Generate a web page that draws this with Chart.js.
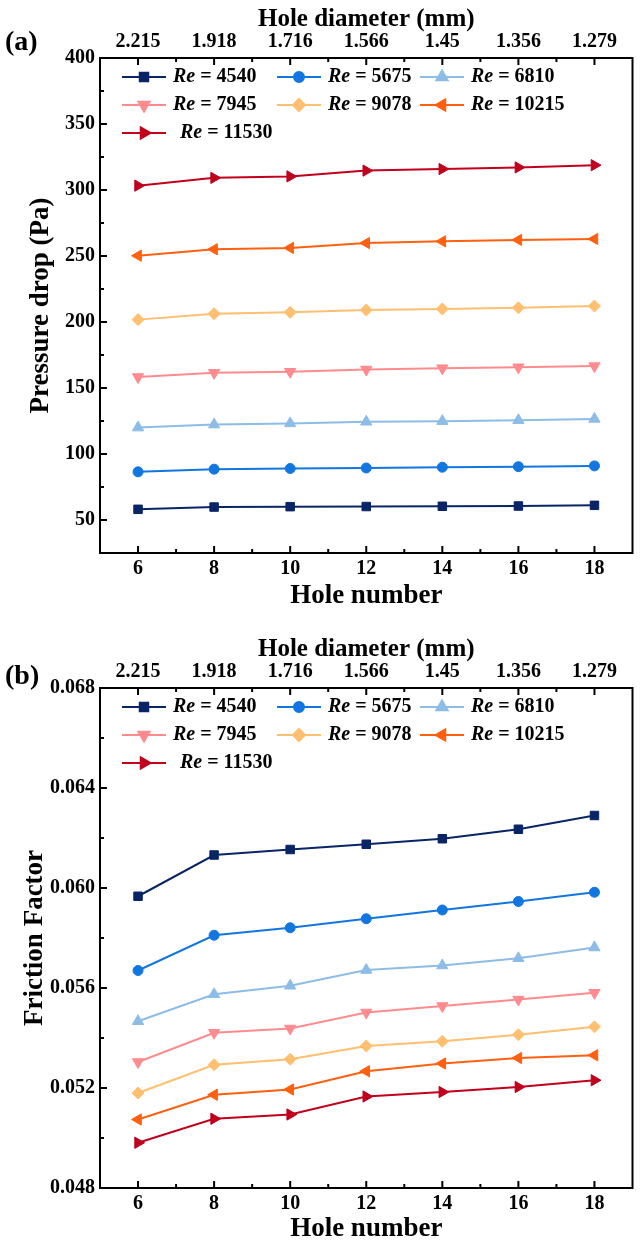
<!DOCTYPE html>
<html>
<head>
<meta charset="utf-8">
<script src="https://cdn.jsdelivr.net/npm/chart.js@4.4.1/dist/chart.umd.min.js"></script>
<style>
  html, body { margin: 0; padding: 0; background: #fff; }
  #wrap { position: relative; width: 640px; height: 1243px; }
  #chartA { position: absolute; left: 0; top: 0; }
  #chartB { position: absolute; left: 0; top: 630px; }
</style>
</head>
<body>
<div id="wrap">
  <canvas id="chartA" width="640" height="620"></canvas>
  <canvas id="chartB" width="640" height="613"></canvas>
</div>
<script>
// ---- data ----
const holeNumbers = [6, 8, 10, 12, 14, 16, 18];
const holeDiameters = ["2.215", "1.918", "1.716", "1.566", "1.45", "1.356", "1.279"];
const reynolds = [4540, 5675, 6810, 7945, 9078, 10215, 11530];

const pressure4540  = [58.1, 59.8, 60.1, 60.2, 60.4, 60.6, 61.1];
const pressure5675  = [86.5, 88.5, 89.0, 89.4, 90.0, 90.4, 91.0];
const pressure6810  = [120.0, 122.3, 123.2, 124.4, 124.9, 125.6, 126.6];
const pressure7945  = [158.3, 161.5, 162.3, 164.0, 165.0, 165.7, 166.6];
const pressure9078  = [201.8, 206.3, 207.3, 209.1, 209.9, 210.8, 212.1];
const pressure10215 = [250.2, 255.1, 256.1, 259.8, 261.1, 262.2, 262.9];
const pressure11530 = [303.3, 309.2, 310.3, 314.7, 315.9, 317.1, 318.8];

const friction4540  = [0.05967, 0.06132, 0.06154, 0.06175, 0.06197, 0.06235, 0.06290];
const friction5675  = [0.05670, 0.05811, 0.05841, 0.05877, 0.05912, 0.05946, 0.05983];
const friction6810  = [0.05467, 0.05575, 0.05609, 0.05672, 0.05690, 0.05719, 0.05762];
const friction7945  = [0.05304, 0.05421, 0.05438, 0.05502, 0.05528, 0.05554, 0.05581];
const friction9078  = [0.05180, 0.05293, 0.05315, 0.05368, 0.05387, 0.05413, 0.05445];
const friction10215 = [0.05074, 0.05173, 0.05194, 0.05267, 0.05298, 0.05320, 0.05331];
const friction11530 = [0.04981, 0.05077, 0.05094, 0.05166, 0.05184, 0.05204, 0.05231];

const pressureTicks = [50, 100, 150, 200, 250, 300, 350, 400];
const frictionTicks = [0.048, 0.052, 0.056, 0.060, 0.064, 0.068];

// ---- look ----
const FONT = "'Liberation Serif', 'Times New Roman', serif";
const STYLES = [
  { color: "#0a2566", point: "rect",     rot: 0,   r: 6 },
  { color: "#1276e0", point: "circle",   rot: 0,   r: 5 },
  { color: "#8dbde6", point: "triangle", rot: 0,   r: 6.5 },
  { color: "#ff8b8e", point: "triangle", rot: 180, r: 6.5 },
  { color: "#ffbf70", point: "rectRot",  rot: 0,   r: 6 },
  { color: "#ff6010", point: "triangle", rot: -90, r: 6.5 },
  { color: "#c0001c", point: "triangle", rot: 90,  r: 6.5, gap: 7 }
];
const tickFont = { family: FONT, size: 20, weight: "bold" };
const topTitleFont = { family: FONT, size: 25, weight: "bold", lineHeight: 1 };
const titleFont = { family: FONT, size: 27, weight: "bold", lineHeight: 1 };

const line = (ctx, x1, y1, x2, y2) => {
  ctx.beginPath();
  ctx.moveTo(x1, y1);
  ctx.lineTo(x2, y2);
  ctx.stroke();
};

// frame, inward ticks, legend and panel letter
const decor = {
  id: "decor",
  beforeDatasetsDraw(chart, args, opts) {
    const { ctx, chartArea: a, scales } = chart;
    ctx.save();
    ctx.strokeStyle = "#000";
    ctx.lineWidth = 2;
    ctx.strokeRect(a.left, a.top, a.right - a.left, a.bottom - a.top);

    holeNumbers.forEach((v, i) => {
      const px = scales.x.getPixelForValue(v);
      line(ctx, px, a.bottom, px, a.bottom - 7);
      line(ctx, px, a.top, px, a.top + 7);
      if (i < holeNumbers.length - 1) {
        const mx = scales.x.getPixelForValue(v + 1);
        line(ctx, mx, a.bottom, mx, a.bottom - 4);
        line(ctx, mx, a.top, mx, a.top + 4);
      }
    });

    const yt = opts.yTicks;
    yt.forEach((v, i) => {
      const py = scales.y.getPixelForValue(v);
      if (py > a.top + 1 && py < a.bottom - 1) line(ctx, a.left, py, a.left + 7, py);
      if (i < yt.length - 1) {
        const my = scales.y.getPixelForValue((v + yt[i + 1]) / 2);
        line(ctx, a.left, my, a.left + 4, my);
      }
    });
    ctx.restore();
  },
  afterDatasetsDraw(chart, args, opts) {
    const { ctx, chartArea: a } = chart;
    ctx.save();
    const cols = [22, 177, 320];
    chart.data.datasets.forEach((ds, i) => {
      const st = STYLES[i];
      const x0 = a.left + cols[i % 3];
      const y0 = a.top + 19 + Math.floor(i / 3) * 28;
      ctx.strokeStyle = st.color;
      ctx.fillStyle = st.color;
      ctx.lineWidth = 2;
      line(ctx, x0, y0, x0 + 44, y0);
      Chart.helpers.drawPoint(ctx, { pointStyle: st.point, rotation: st.rot, radius: st.r, borderWidth: 1 }, x0 + 22, y0);

      ctx.fillStyle = "#000";
      ctx.textBaseline = "middle";
      let tx = x0 + 51 + (st.gap || 0);
      ctx.font = "italic bold 20px " + FONT;
      ctx.fillText("Re", tx, y0);
      tx += ctx.measureText("Re").width;
      ctx.font = "bold 20px " + FONT;
      ctx.fillText(" = " + reynolds[i], tx, y0);
    });

    ctx.font = "bold 28px " + FONT;
    ctx.textBaseline = "middle";
    ctx.fillText(opts.letter, 5, opts.letterY);
    ctx.restore();
  }
};

const makeChart = (id, cfg) => {
  const datasets = cfg.series.map((vals, i) => ({
    label: "Re = " + reynolds[i],
    data: holeNumbers.map((x, j) => ({ x, y: vals[j] })),
    borderColor: STYLES[i].color,
    backgroundColor: STYLES[i].color,
    borderWidth: 2,
    pointStyle: STYLES[i].point,
    pointRotation: STYLES[i].rot,
    pointRadius: STYLES[i].r,
    pointBorderWidth: 1,
    tension: 0
  }));

  const hnTicks = s => { s.ticks = holeNumbers.map(v => ({ value: v })); };

  return new Chart(document.getElementById(id), {
    type: "line",
    data: { datasets },
    plugins: [decor],
    options: {
      responsive: false,
      animation: false,
      layout: { padding: { right: 1, left: 0, top: 0, bottom: 0 } },
      plugins: {
        legend: { display: false },
        tooltip: { enabled: false },
        decor: { yTicks: cfg.yTicks, letter: cfg.letter, letterY: cfg.letterY }
      },
      scales: {
        x: {
          type: "linear", position: "bottom", min: 5, max: 19,
          afterBuildTicks: hnTicks,
          afterFit: s => { s.height = cfg.bottomH; },
          grid: { display: false, drawTicks: false },
          border: { display: false },
          ticks: { font: tickFont, color: "#000", padding: 4, maxRotation: 0, autoSkip: false },
          title: { display: true, text: "Hole number", font: titleFont, color: "#000", padding: { top: 0, bottom: cfg.bottomPad } }
        },
        x2: {
          type: "linear", position: "top", min: 5, max: 19,
          afterBuildTicks: hnTicks,
          afterFit: s => { s.height = 58; },
          grid: { display: false, drawTicks: false },
          border: { display: false },
          ticks: {
            font: tickFont, color: "#000", padding: 4, maxRotation: 0, autoSkip: false,
            callback: v => holeDiameters[holeNumbers.indexOf(v)] || ""
          },
          title: { display: true, text: "Hole diameter (mm)", font: topTitleFont, color: "#000", padding: { top: 7, bottom: 0 } }
        },
        y: {
          type: "linear", position: "left", min: cfg.yMin, max: cfg.yMax,
          afterBuildTicks: s => { s.ticks = cfg.yTicks.map(v => ({ value: v })); },
          afterFit: s => { s.width = 100; },
          grid: { display: false, drawTicks: false },
          border: { display: false },
          ticks: { font: tickFont, color: "#000", padding: 5, callback: cfg.yFormat },
          title: { display: true, text: cfg.yTitle, font: titleFont, color: "#000", padding: { top: cfg.yTitlePad, bottom: 0 } }
        }
      }
    }
  });
};

makeChart("chartA", {
  series: [pressure4540, pressure5675, pressure6810, pressure7945, pressure9078, pressure10215, pressure11530],
  yMin: 25, yMax: 400, yTicks: pressureTicks,
  yFormat: v => String(v),
  yTitle: "Pressure drop (Pa)", yTitlePad: 28,
  bottomH: 67, bottomPad: 10,
  letter: "(a)", letterY: 43
});

makeChart("chartB", {
  series: [friction4540, friction5675, friction6810, friction7945, friction9078, friction10215, friction11530],
  yMin: 0.048, yMax: 0.068, yTicks: frictionTicks,
  yFormat: v => v.toFixed(3),
  yTitle: "Friction Factor", yTitlePad: 22,
  bottomH: 55, bottomPad: 0,
  letter: "(b)", letterY: 47
});
</script>
</body>
</html>
